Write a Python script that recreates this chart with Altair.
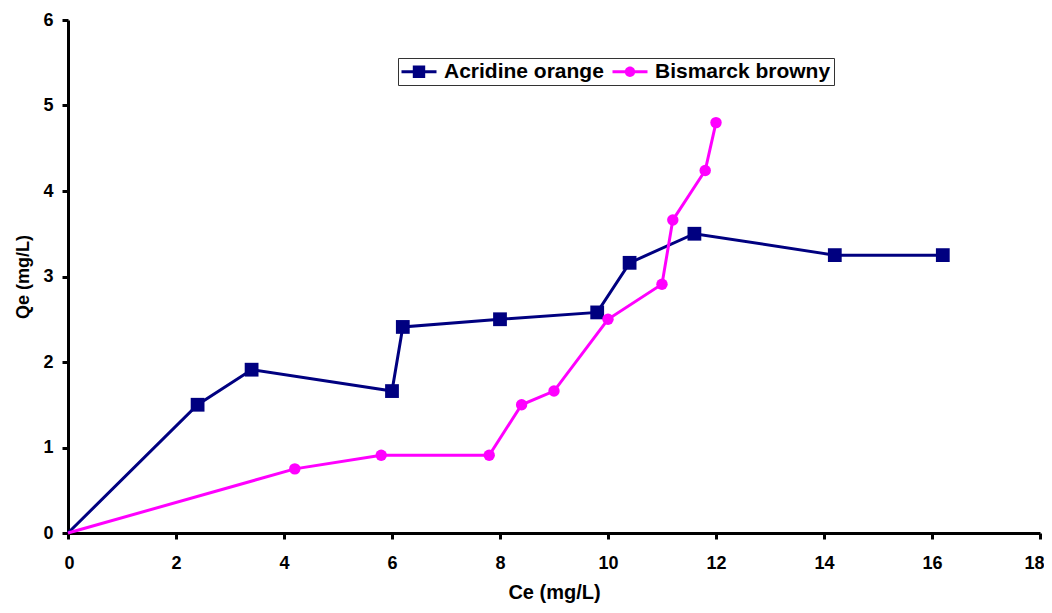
import altair as alt
import pandas as pd

# ---- data ----
series_names = ["Acridine orange", "Bismarck browny"]
series_colors = ["#000080", "#FF00FF"]

acr_ce = [0, 2.4, 3.4, 6.0, 6.2, 8.0, 9.8, 10.4, 11.6, 14.2, 16.2]
acr_qe = [0, 1.5, 1.91, 1.66, 2.41, 2.5, 2.58, 3.16, 3.5, 3.25, 3.25]

bis_ce = [0, 4.2, 5.8, 7.8, 8.4, 9.0, 10.0, 11.0, 11.2, 11.8, 12.0]
bis_qe = [0, 0.75, 0.91, 0.91, 1.5, 1.66, 2.5, 2.91, 3.66, 4.24, 4.8]

x_ticks = [0, 2, 4, 6, 8, 10, 12, 14, 16, 18]
y_ticks = [0, 1, 2, 3, 4, 5, 6]

rows = []
for i, (c, q) in enumerate(zip(acr_ce, acr_qe)):
    rows.append({"series": series_names[0], "ce": c, "qe": q, "idx": i})
for i, (c, q) in enumerate(zip(bis_ce, bis_qe)):
    rows.append({"series": series_names[1], "ce": c, "qe": q, "idx": i})
df = pd.DataFrame(rows)

FONT = "Liberation Sans"

x_enc = alt.X(
    "ce:Q",
    scale=alt.Scale(domain=[0, 18], nice=False, zero=False),
    axis=alt.Axis(
        values=x_ticks, title="Ce (mg/L)", titleFontSize=20,
        labelPadding=15, titlePadding=10,
        labelFlush=True, labelFlushOffset=4,
    ),
)
y_enc = alt.Y(
    "qe:Q",
    scale=alt.Scale(domain=[0, 6], nice=False, zero=False),
    axis=alt.Axis(values=y_ticks, title="Qe (mg/L)", titleFontSize=18,
                  labelPadding=9, titlePadding=10),
)

base = alt.Chart(df)

# legend symbols: a line with the marker on it (custom paths)
sq_path = "M-1,-0.15H2.5V0.15H-1Z M0.13,-0.62H1.37V0.62H0.13Z"
ci_path = ("M-1,-0.15H2.5V0.15H-1Z M1.27,0 A0.52,0.52 0 1,1 0.23,0 "
           "A0.52,0.52 0 1,1 1.27,0Z")


def series_layers(k, shape, size):
    sub = base.transform_filter(alt.datum.series == series_names[k])
    line = sub.mark_line(color=series_colors[k], strokeWidth=3).encode(
        x=x_enc, y=y_enc, order="idx:Q"
    )
    pts = sub.transform_filter(alt.datum.idx > 0).mark_point(
        shape=shape, filled=True, opacity=1, size=size, color=series_colors[k]
    ).encode(x=x_enc, y=y_enc)
    return [line, pts]


legend_layer = base.transform_filter("false").mark_point(filled=True).encode(
    x=x_enc,
    y=y_enc,
    color=alt.Color("series:N",
                    scale=alt.Scale(domain=series_names, range=series_colors),
                    legend=alt.Legend(title=None)),
    shape=alt.Shape("series:N",
                    scale=alt.Scale(domain=series_names, range=[sq_path, ci_path]),
                    legend=alt.Legend(title=None)),
)

chart = alt.layer(
    *series_layers(0, "square", 190),
    *series_layers(1, "circle", 130),
    legend_layer,
).properties(
    width=972,
    height=513,
    padding={"left": 60, "top": 12, "right": 4, "bottom": 72},
    autosize=alt.AutoSizeParams(type="none"),
    background="white",
).configure_view(
    stroke=None
).configure_axis(
    grid=False,
    domainColor="black",
    domainWidth=3,
    tickColor="black",
    tickWidth=3,
    tickSize=6,
    labelFont=FONT,
    labelFontSize=18,
    labelFontWeight="bold",
    labelColor="black",
    titleFont=FONT,
    titleFontWeight="bold",
    titleColor="black",
).configure_legend(
    orient="none",
    legendX=330,
    legendY=38,
    direction="horizontal",
    strokeColor="#333333",
    fillColor="white",
    padding=3,
    labelFont=FONT,
    labelFontSize=21,
    labelFontWeight="bold",
    labelColor="black",
    labelOffset=22,
    labelLimit=0,
    symbolSize=400,
    symbolStrokeWidth=0,
    symbolOpacity=1,
    columnPadding=8,
)

chart.save("out.html", embed_options={"renderer": "svg", "actions": False})
